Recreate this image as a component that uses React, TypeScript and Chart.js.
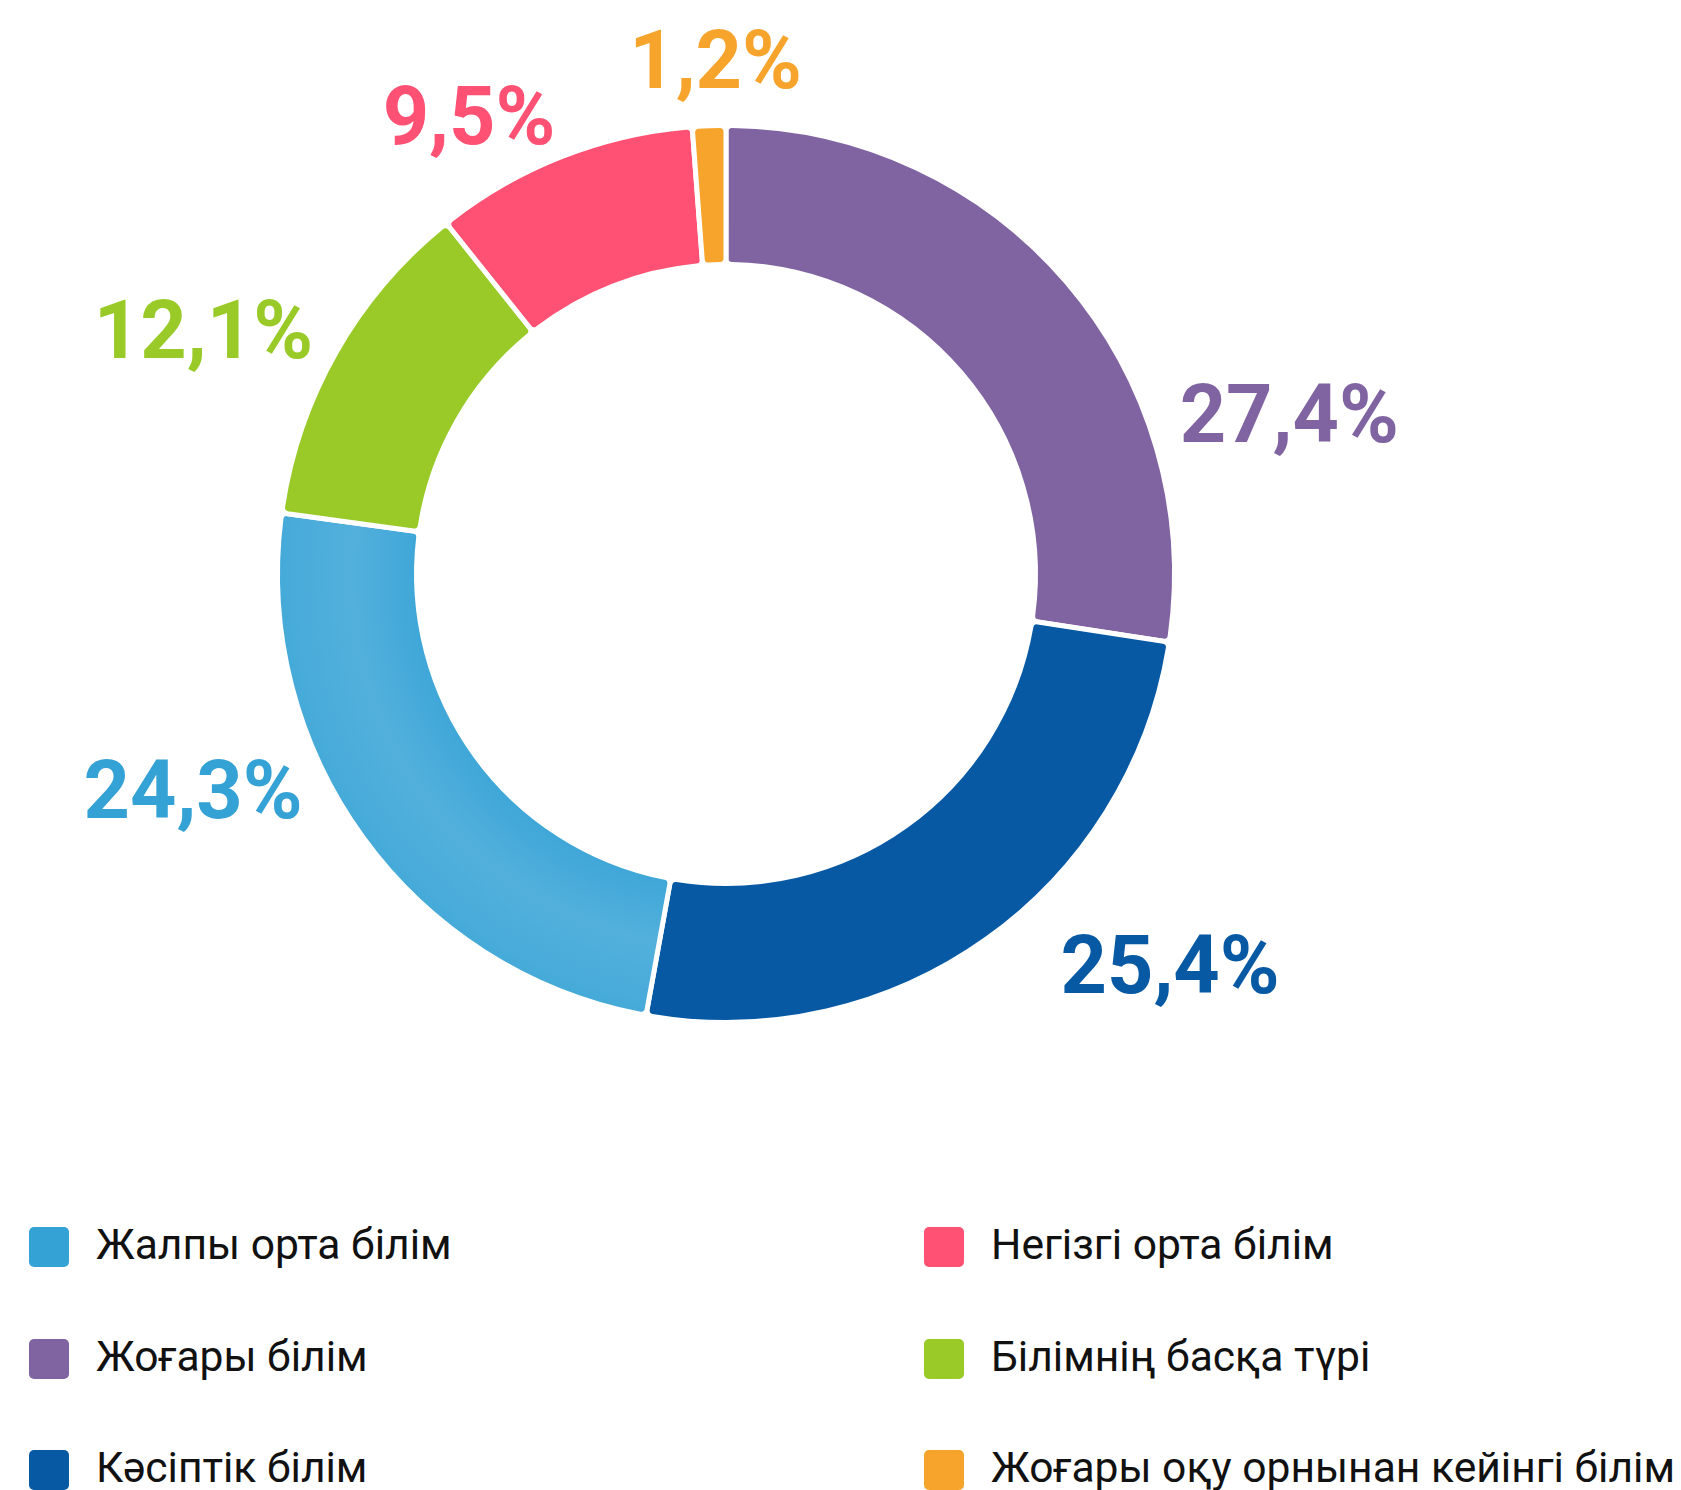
import { useEffect, useRef } from 'react';
import { Chart, registerables } from 'chart.js';

Chart.register(...registerables);

// ---- data (clockwise from the top) ----
const categories = [
  'Жоғары білім',
  'Кәсіптік білім',
  'Жалпы орта білім',
  'Білімнің басқа түрі',
  'Негізгі орта білім',
  'Жоғары оқу орнынан кейінгі білім',
];
const shares = [27.4, 25.4, 24.3, 12.1, 9.5, 1.2];
// legend shows the categories in this order (row by row, two columns)
const legendOrder = [2, 4, 0, 3, 1, 5];

// ---- styles ----
const sliceColors = ['#8064a2', '#0759a4', '#4aacd9', '#99ca28', '#ff5173', '#f6a42b'];
const markColors = ['#8064a2', '#0759a4', '#35a2d6', '#99ca28', '#ff5173', '#f6a42b'];
// label placement relative to each slice: angular shift (deg) from the slice middle, distance in outer radii
const labelAngleShift = [24.7, -13.2, 14.0, -4.5, -7.8, 1.0];
const labelDistance = [1.306, 1.318, 1.281, 1.287, 1.173, 1.148];
const LABEL_FONT = 81;
const LEGEND_FONT = 42.6;

const formatShare = (v: number) => v.toFixed(1).replace('.', ',') + '%';

const sliceLabelPlugin = {
  id: 'sliceLabels',
  afterDatasetsDraw(chart: any) {
    const meta = chart.getDatasetMeta(0);
    const ctx = chart.ctx;
    ctx.save();
    ctx.font = `bold ${LABEL_FONT}px Roboto`;
    ctx.textAlign = 'center';
    ctx.textBaseline = 'alphabetic';
    meta.data.forEach((arc: any, i: number) => {
      const { x, y, startAngle, endAngle, outerRadius } = arc.getProps(
        ['x', 'y', 'startAngle', 'endAngle', 'outerRadius'],
        true
      );
      const a = (startAngle + endAngle) / 2 + (labelAngleShift[i] * Math.PI) / 180;
      const r = outerRadius * labelDistance[i];
      const px = x + Math.cos(a) * r;
      const py = y + Math.sin(a) * r;
      ctx.fillStyle = markColors[i];
      ctx.fillText(formatShare(shares[i]), px, py + (LABEL_FONT * 0.711) / 2);
    });
    ctx.restore();
  },
};

function DonutChart() {
  const ref = useRef<HTMLCanvasElement | null>(null);
  useEffect(() => {
    if (!ref.current) return;
    const chart = new Chart(ref.current, {
      type: 'doughnut',
      data: {
        labels: categories,
        datasets: [
          {
            data: shares,
            backgroundColor: (c: any) => {
              const i = c.dataIndex;
              const area = c.chart.chartArea;
              if (i !== 2 || !area) return sliceColors[i];
              const cx = (area.left + area.right) / 2;
              const cy = (area.top + area.bottom) / 2;
              const R = Math.min(area.width, area.height) / 2;
              const g = c.chart.ctx.createRadialGradient(cx, cy, R * 0.69, cx, cy, R);
              g.addColorStop(0, '#3fa7d8');
              g.addColorStop(0.45, '#53b0dc');
              g.addColorStop(1, '#45aad9');
              return g;
            },
            borderColor: '#ffffff',
            borderWidth: 5,
            borderRadius: 6,
            hoverOffset: 0,
          },
        ],
      },
      options: {
        responsive: false,
        animation: false,
        cutout: '69%',
        layout: { padding: { left: 275, right: 504, top: 123, bottom: 125 } },
        plugins: {
          legend: { display: false },
          tooltip: { enabled: false },
        },
        events: [],
      },
      plugins: [sliceLabelPlugin],
    });
    return () => chart.destroy();
  }, []);
  return (
    <canvas
      ref={ref}
      width={1681}
      height={1150}
      style={{ position: 'absolute', left: 0, top: 0, width: 1681, height: 1150 }}
    />
  );
}

export default function App() {
  useEffect(() => {
    document.body.style.margin = '0';
    document.body.style.overflow = 'hidden';
  }, []);
  return (
    <div
      style={{
        position: 'absolute',
        left: 0,
        top: 0,
        width: 1681,
        height: 1490,
        background: '#ffffff',
        overflow: 'hidden',
      }}
    >
      <DonutChart />
      {legendOrder.map((idx, k) => {
        const col = k % 2;
        const row = Math.floor(k / 2);
        return (
          <div
            key={idx}
            style={{
              position: 'absolute',
              left: 29 + col * 895,
              top: 1227 + row * 111.5,
              height: 40,
              display: 'flex',
              alignItems: 'center',
            }}
          >
            <span
              style={{
                display: 'inline-block',
                width: 40,
                height: 40,
                borderRadius: 5,
                background: markColors[idx],
                flex: '0 0 auto',
              }}
            />
            <span
              style={{
                marginLeft: 27,
                position: 'relative',
                top: -3,
                fontFamily: 'Roboto',
                fontSize: LEGEND_FONT,
                color: '#111111',
                whiteSpace: 'nowrap',
              }}
            >
              {categories[idx]}
            </span>
          </div>
        );
      })}
    </div>
  );
}
